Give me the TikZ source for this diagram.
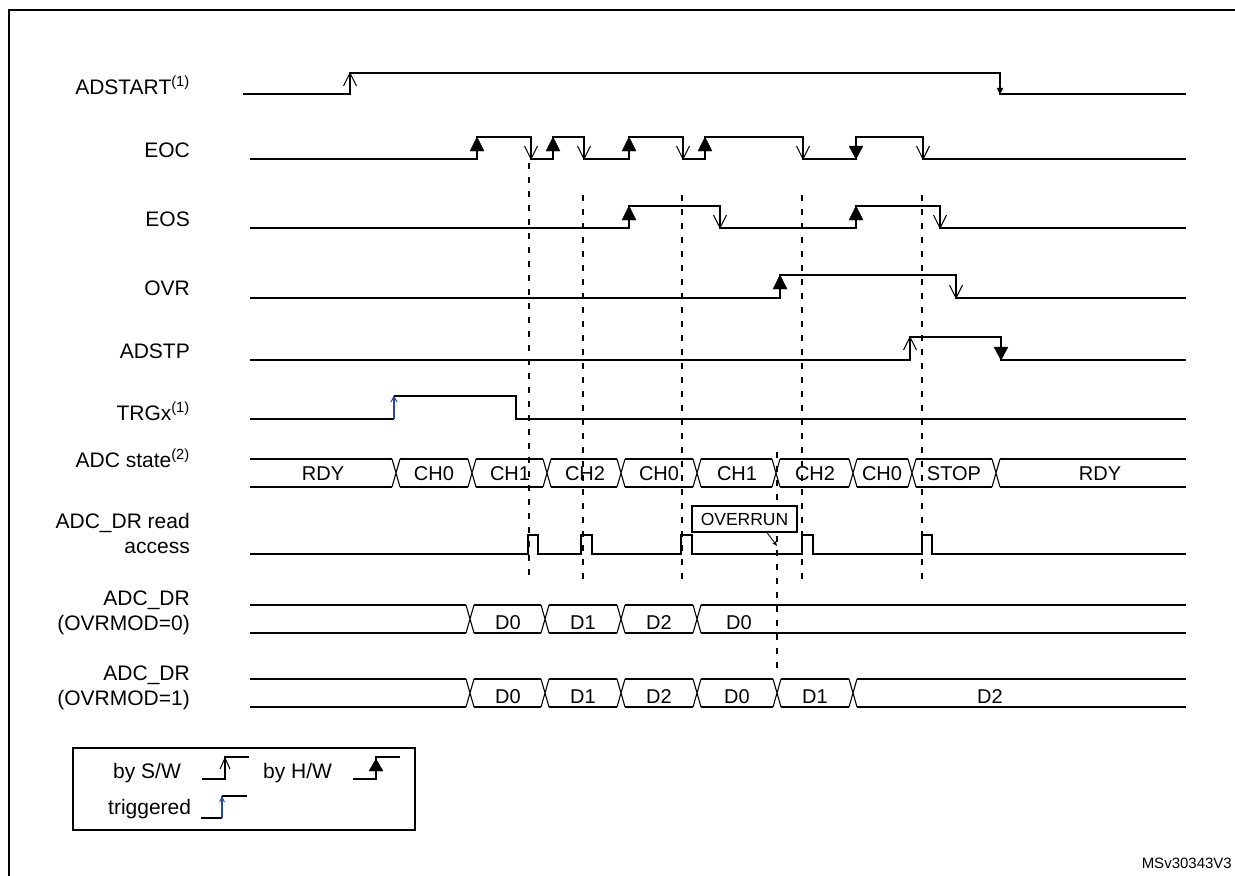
\documentclass[tikz,border=0pt]{standalone}
\usepackage{fontspec}
\setmainfont{Liberation Sans}
\usetikzlibrary{arrows.meta}
\definecolor{trgblue}{RGB}{40,70,160}
\tikzset{
  sig/.style={line width=1.9pt, line join=miter},
  bus/.style={line width=1.1pt},
  arr/.style={line width=1.1pt, line join=miter},
  harr/.style={fill=black, draw=black, line width=0.4pt},
  vdash/.style={line width=1.6pt, dash pattern=on 6pt off 8pt},
  lab/.style={anchor=base east, inner sep=0pt, font=\fontsize{21}{25}\selectfont},
  bt/.style={anchor=base, inner sep=0pt, font=\fontsize{20}{23}\selectfont},
  legtxt/.style={anchor=base west, inner sep=0pt, font=\fontsize{21}{25}\selectfont},
}
% arrow helpers (image coordinates, y grows downwards)
\newcommand\SWup[2]{\draw[arr] ({#1-6.5},{#2+13}) -- (#1,#2) -- ({#1+6.5},{#2+13});}
\newcommand\SWdown[2]{\draw[arr] ({#1-6.5},{#2-13}) -- (#1,#2) -- ({#1+6.5},{#2-13});}
\newcommand\HWup[2]{\filldraw[harr] ({#1-7},{#2+14}) -- (#1,#2) -- ({#1+7},{#2+14}) -- cycle;}
\newcommand\HWdown[2]{\filldraw[harr] ({#1-7},{#2-13}) -- (#1,#2) -- ({#1+7},{#2-13}) -- cycle;}
\newcommand\BusX[3]{\draw[bus] ({#1-4},#2) -- ({#1+4},#3) ({#1-4},#3) -- ({#1+4},#2);}
\newcommand\BusSeg[3]{\foreach \a/\b in {#3} {\draw[bus] (\a,#1) -- (\b,#1) (\a,#2) -- (\b,#2);}}
\begin{document}
\begin{tikzpicture}[x=1pt,y=-1pt]
\useasboundingbox (0,0) rectangle (1235,876);
\clip (0,0) rectangle (1235,876);
\fill[white] (0,0) rectangle (1235,876);
% frame
\draw[line width=2.2pt] (9,900) -- (9,10) -- (1250,10);

% labels
\node[lab] (lADSTART) at (190,94) {ADSTART\textsuperscript{(1)}};
\node[lab] (lEOC) at (190,157) {EOC};
\node[lab] (lEOS) at (190,226) {EOS};
\node[lab] (lOVR) at (190,295) {OVR};
\node[lab] (lADSTP) at (190,358) {ADSTP};
\node[lab] (lTRG) at (190,420) {TRGx\textsuperscript{(1)}};
\node[lab] (lSTATE) at (190,467) {ADC state\textsuperscript{(2)}};
\node[lab] (lRD1) at (190,528) {ADC\_DR read};
\node[lab] (lRD2) at (190,553) {access};
\node[lab] (lDR0a) at (190,605) {ADC\_DR};
\node[lab] (lDR0b) at (190,630) {(OVRMOD=0)};
\node[lab] (lDR1a) at (190,680) {ADC\_DR};
\node[lab] (lDR1b) at (190,705) {(OVRMOD=1)};

% dashed vertical markers
\draw[vdash] (529,163) -- (529,581);
\foreach \x in {583,682,802,922} {\draw[vdash] (\x,195) -- (\x,581);}
\draw[vdash] (777,452) -- (777,672);

% ADSTART
\draw[sig] (243,94) -- (350,94) -- (350,73) -- (1000,73) -- (1000,94) -- (1186,94);
\SWup{350}{73}
\filldraw[harr] (997,88) -- (1000,94) -- (1003,88) -- cycle;

% EOC
\draw[sig] (250,159) -- (477,159) -- (477,137) -- (531,137) -- (531,159) -- (553,159) -- (553,137)
  -- (584,137) -- (584,159) -- (629,159) -- (629,137) -- (683,137) -- (683,159) -- (705,159)
  -- (705,137) -- (803,137) -- (803,159) -- (856,159) -- (856,137) -- (923,137) -- (923,159) -- (1186,159);
\foreach \x in {477,553,629,705} {\HWup{\x}{137}}
\foreach \x in {531,584,683,803,923} {\SWdown{\x}{159}}
\HWdown{856}{159}

% EOS
\draw[sig] (250,228) -- (629,228) -- (629,206) -- (720,206) -- (720,228) -- (856,228) -- (856,206)
  -- (940,206) -- (940,228) -- (1186,228);
\HWup{629}{206}
\HWup{856}{206}
\SWdown{720}{228}
\SWdown{940}{228}

% OVR
\draw[sig] (250,298) -- (780,298) -- (780,275) -- (956,275) -- (956,298) -- (1186,298);
\HWup{780}{275}
\SWdown{956}{298}

% ADSTP
\draw[sig] (250,360) -- (910,360) -- (910,337) -- (1001,337) -- (1001,360) -- (1186,360);
\SWup{910}{337}
\HWdown{1001}{360}

% TRGx
\draw[sig] (250,419) -- (394,419);
\draw[line width=1.5pt, trgblue] (394,419) -- (394,396);
\draw[line width=1pt, trgblue] (391,402) -- (394,396.5) -- (397,402);
\draw[sig] (394,396) -- (516,396) -- (516,419) -- (1186,419);

% ADC state bus
\BusSeg{459}{487}{250/392,400/468,476/543,551/617,625/693,701/772,780/849,857/908,916/992,1000/1186}
\foreach \t in {396,472,547,621,697,776,853,912,996} {\BusX{\t}{459}{487}}
\node[bt] (sRDY1) at (323,480) {RDY};
\node[bt] (sCH0a) at (434,480) {CH0};
\node[bt] (sCH1a) at (510,480) {CH1};
\node[bt] (sCH2a) at (585,480) {CH2};
\node[bt] (sCH0b) at (659,480) {CH0};
\node[bt] (sCH1b) at (737,480) {CH1};
\node[bt] (sCH2b) at (815,480) {CH2};
\node[bt] (sCH0c) at (882,480) {CH0};
\node[bt] (sSTOP) at (954,480) {STOP};
\node[bt] (sRDY2) at (1100,480) {RDY};

% ADC_DR read access
\draw[sig] (250,554) -- (528,554) -- (528,535) -- (538,535) -- (538,554) -- (581,554) -- (581,535)
  -- (592,535) -- (592,554) -- (681,554) -- (681,535) -- (692,535) -- (692,554) -- (802,554)
  -- (802,535) -- (813,535) -- (813,554) -- (922,554) -- (922,535) -- (932,535) -- (932,554) -- (1186,554);
\node[draw, fill=white, line width=1.2pt, minimum width=105pt, minimum height=26pt, inner sep=0pt,
      font=\fontsize{17.5}{20}\selectfont] (ovr) at (744.5,519) {OVERRUN};
\coordinate (ovrpt) at (777,546);
\draw[line width=0.9pt, -{Stealth[length=5pt,width=4pt]}] (ovr.south -| 767,0) -- (ovrpt);

% ADC_DR OVRMOD=0
\BusSeg{605}{633}{250/466,474/541,549/617,625/693,701/1186}
\foreach \t in {470,545,621,697} {\BusX{\t}{605}{633}}
\node[bt] (d0a) at (508,629) {D0};
\node[bt] (d0b) at (583,629) {D1};
\node[bt] (d0c) at (659,629) {D2};
\node[bt] (d0d) at (739,629) {D0};

% ADC_DR OVRMOD=1
\BusSeg{679}{707}{250/466,474/541,549/617,625/693,701/773,781/849,857/1186}
\foreach \t in {470,545,621,697,777,853} {\BusX{\t}{679}{707}}
\node[bt] (d1a) at (508,703) {D0};
\node[bt] (d1b) at (583,703) {D1};
\node[bt] (d1c) at (659,703) {D2};
\node[bt] (d1d) at (737,703) {D0};
\node[bt] (d1e) at (815,703) {D1};
\node[bt] (d1f) at (990,703) {D2};

% legend
\node[draw, line width=1.5pt, minimum width=342pt, minimum height=82pt, inner sep=0pt] (legend) at (244,789) {};
\node[legtxt] (tsw) at (113,778) {by S/W};
\node[legtxt] (thw) at (263,778) {by H/W};
\node[legtxt] (ttrg) at (108,814) {triggered};
\draw[line width=1.5pt] (202,779) -- (225,779) -- (225,757) -- (249,757);
\draw[line width=1pt] (220,769) -- (225,758) -- (230,769);
\draw[line width=1.5pt] (353,779) -- (376,779) -- (376,757) -- (400,757);
\filldraw[harr] (369,771) -- (376,759) -- (383,771) -- cycle;
\draw[line width=1.5pt] (201,818) -- (222,818);
\draw[line width=1.3pt, trgblue] (222,818) -- (222,796);
\draw[line width=0.9pt, trgblue] (219.5,802) -- (222,797) -- (224.5,802);
\draw[line width=1.5pt] (222,796) -- (247,796);

% reference code
\node[anchor=base east, inner sep=0pt, font=\fontsize{15}{17}\selectfont] (code) at (1232,868) {MSv30343V3};
\end{tikzpicture}
\end{document}
